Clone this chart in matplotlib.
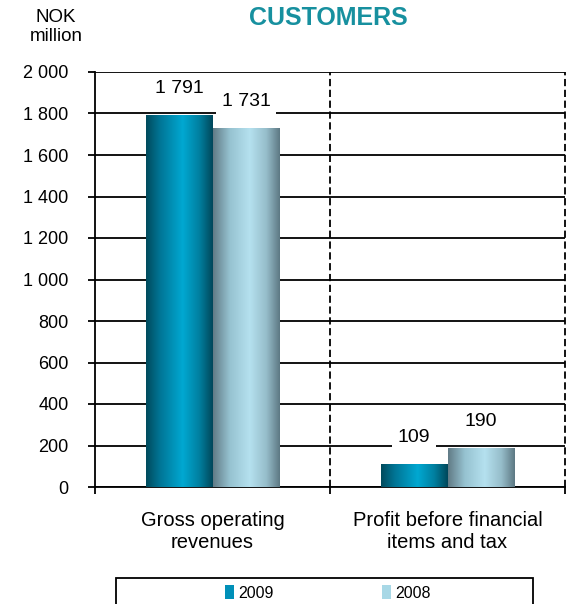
import numpy as np
import matplotlib
matplotlib.use("Agg")
import matplotlib.pyplot as plt
from matplotlib.colors import LinearSegmentedColormap
from matplotlib.patches import Rectangle

plt.rcParams['font.family'] = ['Liberation Sans', 'DejaVu Sans']

categories = ["Gross operating\nrevenues", "Profit before financial\nitems and tax"]
series_names = ["2009", "2008"]
values_2009 = [1791, 109]
values_2008 = [1731, 190]
value_labels_2009 = ["1 791", "109"]
value_labels_2008 = ["1 731", "190"]
yticks = [0, 200, 400, 600, 800, 1000, 1200, 1400, 1600, 1800, 2000]
ytick_labels = ["0", "200", "400", "600", "800", "1 000", "1 200", "1 400", "1 600", "1 800", "2 000"]

cmap_2009 = LinearSegmentedColormap.from_list(
    "c2009", [(0, "#004a5c"), (0.2, "#007494"), (0.55, "#00a8d2"), (0.8, "#007f9f"), (1, "#00475a")])
cmap_2008 = LinearSegmentedColormap.from_list(
    "c2008", [(0, "#617b86"), (0.25, "#96c2d0"), (0.55, "#b5e1ef"), (0.8, "#96bdca"), (1, "#5d7883")])

fig = plt.figure(figsize=(5.68, 6.04), dpi=100)
ax = fig.add_axes([95/568, 1 - 487/604, 470/568, (487 - 72)/604])

x = np.arange(len(categories))
w = 0.285
bars09 = ax.bar(x - w/2, values_2009, w, color="#0090b8", zorder=3, label=series_names[0])
bars08 = ax.bar(x + w/2, values_2008, w, color="#a8d8e6", zorder=3, label=series_names[1])

grad = np.linspace(0, 1, 256).reshape(1, -1)
for bars, cmap in ((bars09, cmap_2009), (bars08, cmap_2008)):
    for r in bars:
        x0, y0 = r.get_x(), r.get_y()
        im = ax.imshow(grad, cmap=cmap, aspect='auto', zorder=3.5,
                       extent=[x0, x0 + r.get_width(), y0, y0 + r.get_height()],
                       interpolation='bilinear')
        im.set_clip_path(r)

for bars, labs in ((bars09, value_labels_2009), (bars08, value_labels_2008)):
    for r, lab in zip(bars, labs):
        ax.annotate(lab, (r.get_x() + r.get_width()/2, r.get_height()),
                    xytext=(0, 19), textcoords='offset points', ha='center', va='center',
                    fontsize=14, zorder=5,
                    bbox=dict(boxstyle='square,pad=0.3', fc='white', ec='none'))

ax.set_xlim(-0.5, 1.5)
ax.set_ylim(0, 2000)
ax.set_yticks(yticks)
ax.set_yticklabels(ytick_labels, fontsize=13)
ax.yaxis.grid(True, color='black', linewidth=1.3, zorder=1)
ax.set_axisbelow(True)
ax.set_xticks([-0.5, 0.5, 1.5])
ax.set_xticklabels([])
ax.tick_params(axis='x', length=5, width=1.3, direction='out', colors='black')
ax.tick_params(axis='y', length=5, width=1.3, direction='out', pad=14)
for s in ('top', 'right'):
    ax.spines[s].set_visible(False)
ax.spines['left'].set_linewidth(1.3)
ax.spines['bottom'].set_linewidth(1.3)
ax.axvline(0.5, color='black', linestyle=(0, (4, 2)), linewidth=1.3, zorder=2)
ax.axvline(1.5, color='black', linestyle=(0, (4, 2)), linewidth=1.3, zorder=2, clip_on=False)

for xi, cat in zip(x, categories):
    ax.text(xi, -115, cat, ha='center', va='top', fontsize=14.5, linespacing=1.2)

fig.text(328/568, 1 - 18/604, "CUSTOMERS", ha='center', va='center', fontsize=18,
         fontweight='bold', color='#17909f')
fig.text(56/568, 1 - 27/604, "NOK\nmillion", ha='center', va='center', fontsize=13.5,
         linespacing=1.1)

fig.add_artist(Rectangle((116/568, -0.02), (533 - 116)/568, 0.02 + (604 - 578)/604,
                         transform=fig.transFigure, fill=False, ec='black', lw=1.3))
leg = fig.legend(handles=[bars09, bars08], labels=series_names, loc='center',
                 bbox_to_anchor=(328/568, 1 - 593/604), ncol=2, frameon=False,
                 fontsize=11.5, handlelength=0.55, handleheight=1.0, handletextpad=0.25,
                 columnspacing=6.8)

fig.savefig("out.png", dpi=100)
